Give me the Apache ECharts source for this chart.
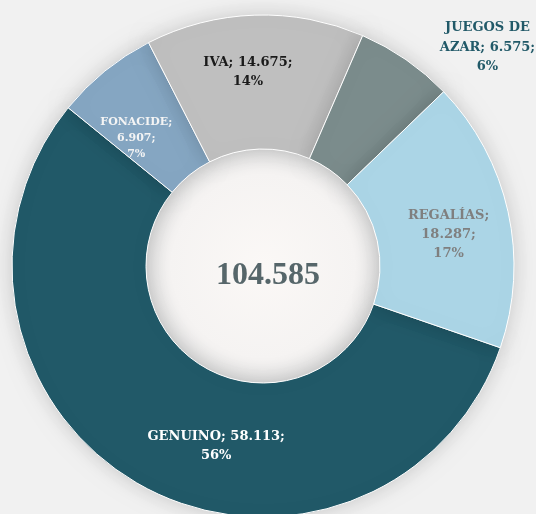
<!DOCTYPE html>
<html>
<head>
<meta charset="utf-8">
<script src="https://cdn.jsdelivr.net/npm/echarts@6/dist/echarts.min.js"></script>
<style>
  html, body { margin: 0; padding: 0; background: #f2f2f2; }
  #chart { width: 536px; height: 514px; }
</style>
</head>
<body>
<div id="chart"></div>
<script>
var chart = echarts.init(document.getElementById('chart'));

// datos (miles)
var categorias = ['GENUINO', 'FONACIDE', 'IVA', 'JUEGOS DE AZAR', 'REGALÍAS'];
var valores = [58113, 6907, 14675, 6575, 18287];
var total = '104.585';
var colores = ['#215968', '#85A6C2', '#BFBFBF', '#7B8C8C', '#ABD5E6'];
var coloresTexto = ['#ffffff', '#f4f4f4', '#1a1a1a', '#215968', '#7f7f7f'];

function miles(v) {
	return String(v).replace(/\B(?=(\d{3})+(?!\d))/g, '.');
}

// como se cortan las lineas de cada etiqueta
function etiqueta(p) {
	var v = miles(p.value);
	var pc = p.percent + '%';
	switch (p.name) {
		case 'GENUINO': return p.name + '; ' + v + ';\n' + pc;
		case 'IVA': return p.name + '; ' + v + ';\n' + pc;
		case 'JUEGOS DE AZAR': return 'JUEGOS DE\nAZAR; ' + v + ';\n' + pc;
		default: return p.name + ';\n' + v + ';\n' + pc;
	}
}

var ajustes = [
	{ offset: [44, 17], fontSize: 13, lineHeight: 19 },
	{ offset: [-9, 17], fontSize: 11, lineHeight: 16 },
	{ offset: [-9, -7], fontSize: 13, lineHeight: 19 },
	{ offset: [118, -65], fontSize: 13, lineHeight: 19.5 },
	{ offset: [3, 9], fontSize: 13, lineHeight: 19 }
];

var datos = [];
for (var i = 0; i < categorias.length; i++) {
	datos.push({
		name: categorias[i],
		value: valores[i],
		itemStyle: { color: colores[i] },
		label: {
			color: coloresTexto[i],
			offset: ajustes[i].offset,
			fontSize: ajustes[i].fontSize,
			lineHeight: ajustes[i].lineHeight
		}
	});
}

var option = {
	backgroundColor: '#f1f1f1',
	animation: false,
	graphic: [{
		type: 'circle',
		shape: { cx: 263, cy: 266, r: 117 },
		style: {
			fill: new echarts.graphic.RadialGradient(0.5, 0.5, 0.5, [
				{ offset: 0, color: '#fbf8f6' },
				{ offset: 0.8, color: '#f5f3f2' },
				{ offset: 1, color: '#e2e2e2' }
			])
		},
		silent: true,
		z: 0
	}, {
		type: 'text',
		x: 268,
		y: 276,
		style: {
			text: total,
			fill: '#56666a',
			font: 'bold 32px "Liberation Serif"',
			textAlign: 'center',
			textVerticalAlign: 'middle'
		},
		z: 10
	}],
	series: [{
		type: 'pie',
		center: [263, 266],
		radius: [117, 251],
		startAngle: -19,
		clockwise: true,
		percentPrecision: 0,
		avoidLabelOverlap: false,
		itemStyle: {
			borderColor: '#ffffff',
			borderWidth: 1,
			shadowBlur: 20,
			shadowColor: 'rgba(0,0,0,0.18)'
		},
		label: {
			show: true,
			position: 'inside',
			fontFamily: 'DejaVu Serif',
			fontWeight: 'bold',
			align: 'center',
			formatter: etiqueta
		},
		labelLine: { show: false },
		emphasis: { disabled: true },
		data: datos
	}]
};

chart.setOption(option);
</script>
</body>
</html>
